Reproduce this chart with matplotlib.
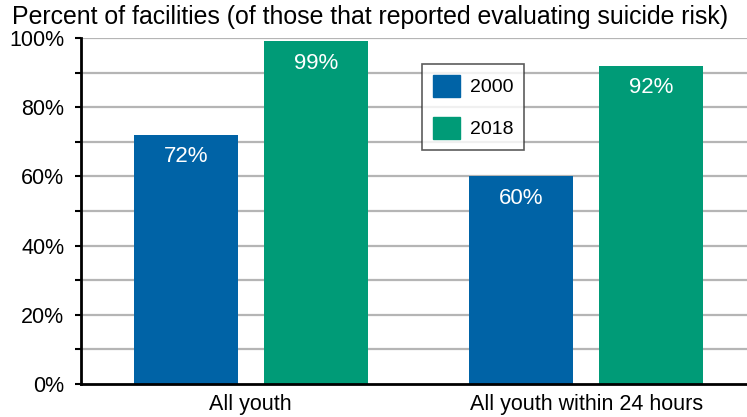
import numpy as np
import matplotlib
matplotlib.use("Agg")
import matplotlib.pyplot as plt
from matplotlib.patches import Patch

plt.rcParams['font.family'] = ['Liberation Sans', 'DejaVu Sans']

categories = ["All youth", "All youth within 24 hours"]
years = ["2000", "2018"]
vals_2000 = [72, 60]
vals_2018 = [99, 92]
colors = ["#0063a6", "#009b77"]

fig = plt.figure(figsize=(7.47, 4.17), dpi=100)
ax = fig.add_axes([81 / 747, 1 - 384 / 417, (747 - 81) / 747, (384 - 38) / 417])

x = np.arange(len(categories))
w = 0.31
off = 0.194
b1 = ax.bar(x - off, vals_2000, w, color=colors[0], zorder=3)
b2 = ax.bar(x + off, vals_2018, w, color=colors[1], zorder=3)

for bars, vals in [(b1, vals_2000), (b2, vals_2018)]:
    for r, v in zip(bars, vals):
        ax.text(r.get_x() + r.get_width() / 2, v - 6.3, f"{v}%", ha="center", va="center",
                color="white", fontsize=16, zorder=4)

ax.set_xlim(-0.506, 1.479)
ax.set_ylim(0, 100)
ax.set_yticks(range(0, 101, 20))
ax.set_yticklabels([f"{t}%" for t in range(0, 101, 20)], fontsize=15.5)
ax.set_yticks(range(10, 100, 20), minor=True)
ax.set_xticks(x)
ax.set_xticklabels(categories, fontsize=15.5)
ax.tick_params(axis="x", length=0, pad=7)
ax.tick_params(axis="y", which="both", length=4, width=1.5, color="black", pad=8)

for t in range(10, 101, 10):
    ax.axhline(t, color="#b5b5b5", lw=1.6, zorder=1)

for s in ["top", "right"]:
    ax.spines[s].set_visible(False)
for s in ["left", "bottom"]:
    ax.spines[s].set_linewidth(2)
    ax.spines[s].set_zorder(5)

handles = [Patch(color=c, label=y) for c, y in zip(colors, years)]
leg = ax.legend(handles=handles, loc="upper left", bbox_to_anchor=((422 - 81) / 666, (384 - 64) / 346),
                borderaxespad=0, fontsize=14, frameon=True, fancybox=False, edgecolor="#333333",
                handlelength=1.4, handleheight=1.4, labelspacing=1.0, borderpad=0.55,
                handletextpad=0.5)
leg.get_frame().set_linewidth(1.2)
leg.set_zorder(6)

fig.text(12 / 747, 1 - 17 / 417, "Percent of facilities (of those that reported evaluating suicide risk)",
         ha="left", va="center", fontsize=17.9)

fig.savefig("out.png", dpi=100)
